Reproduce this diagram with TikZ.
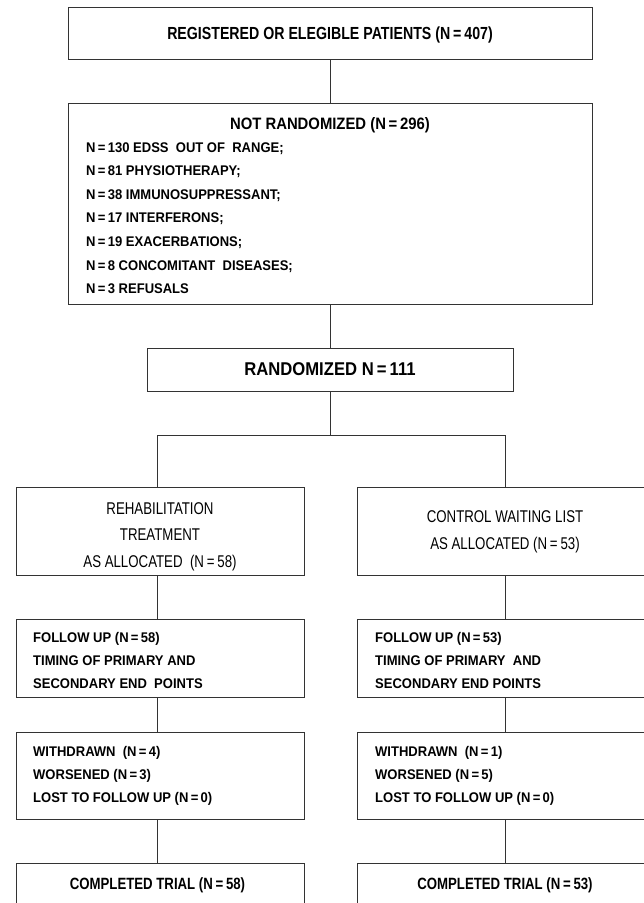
\documentclass[tikz,border=0pt]{standalone}
\usepackage{fontspec}
\setmainfont{Liberation Sans}
\newfontfamily\fsA{Liberation Sans}[FakeStretch=0.81]
\newfontfamily\fsB{Liberation Sans}[FakeStretch=0.90]
\newfontfamily\fsC{Liberation Sans}[FakeStretch=0.93]
\newfontfamily\fsD{Liberation Sans}[FakeStretch=0.78]
\begin{document}
\begin{tikzpicture}[x=1pt,y=-1pt,
  box/.style={draw=black!80, line width=0.9pt, rectangle, inner sep=0pt},
  link/.style={draw=black!80, line width=0.8pt},
  txt/.style={inner sep=0pt, text=black},
  hTitle/.style={txt, font=\fsA\bfseries\fontsize{17.5}{21}\selectfont},
  hNR/.style={txt, font=\fsB\bfseries\fontsize{16.5}{20}\selectfont},
  hRand/.style={txt, font=\fsB\bfseries\fontsize{18.5}{22}\selectfont},
  hList/.style={txt, font=\fsC\bfseries\fontsize{14}{17}\selectfont},
  hAlloc/.style={txt, font=\fsD\fontsize{17}{20}\selectfont},
  hDone/.style={txt, font=\fsA\bfseries\fontsize{16.3}{20}\selectfont}]
\clip (0,0) rectangle (644,903);
\useasboundingbox (0,0) rectangle (644,903);

% boxes
\node[box, minimum width=524pt, minimum height=52pt] (top) at (330,33) {};
\node[box, minimum width=524pt, minimum height=201pt] (nr) at (330,203.5) {};
\node[box, minimum width=366pt, minimum height=43pt] (rand) at (330,369.5) {};
\node[box, minimum width=288pt, minimum height=88pt] (la) at (160,531) {};
\node[box, minimum width=288pt, minimum height=88pt] (ra) at (501,531) {};
\node[box, minimum width=288pt, minimum height=78pt] (lf) at (160,658) {};
\node[box, minimum width=288pt, minimum height=78pt] (rf) at (501,658) {};
\node[box, minimum width=288pt, minimum height=87pt] (lw) at (160,775.5) {};
\node[box, minimum width=288pt, minimum height=87pt] (rw) at (501,775.5) {};
\node[box, minimum width=288pt, minimum height=43pt] (lc) at (160,884.5) {};
\node[box, minimum width=288pt, minimum height=43pt] (rc) at (501,884.5) {};

% connectors
\coordinate (J) at (330,435);
\coordinate (JL) at (157,435);
\coordinate (JR) at (505,435);
\draw[link] (top.south) -- (nr.north);
\draw[link] (nr.south) -- (rand.north);
\draw[link] (rand.south) -- (J);
\draw[link] (JL) -- (JR);
\draw[link] (JL) -- (JL |- la.north);
\draw[link] (JR) -- (JR |- ra.north);
\draw[link] (JL |- la.south) -- (JL |- lf.north);
\draw[link] (JR |- ra.south) -- (JR |- rf.north);
\draw[link] (JL |- lf.south) -- (JL |- lw.north);
\draw[link] (JR |- rf.south) -- (JR |- rw.north);
\draw[link] (JL |- lw.south) -- (JL |- lc.north);
\draw[link] (JR |- rw.south) -- (JR |- rc.north);

% texts
\node[hTitle, anchor=base] (topt) at (330,39.3) {REGISTERED OR ELEGIBLE PATIENTS (N\,=\,407)};
\node[hNR, anchor=base] (nrt) at (330,129.2) {NOT RANDOMIZED (N\,=\,296)};
\node[hList, anchor=base west] (nr1) at (86,152) {N\,=\,130 EDSS\ \ OUT OF\ \ RANGE;};
\node[hList, anchor=base west] (nr2) at (86,175.6) {N\,=\,81 PHYSIOTHERAPY;};
\node[hList, anchor=base west] (nr3) at (86,199.2) {N\,=\,38 IMMUNOSUPPRESSANT;};
\node[hList, anchor=base west] (nr4) at (86,222.8) {N\,=\,17 INTERFERONS;};
\node[hList, anchor=base west] (nr5) at (86,246.4) {N\,=\,19 EXACERBATIONS;};
\node[hList, anchor=base west] (nr6) at (86,270) {N\,=\,8 CONCOMITANT\ \ DISEASES;};
\node[hList, anchor=base west] (nr7) at (86,293.6) {N\,=\,3 REFUSALS};
\node[hRand, anchor=base] (randt) at (330,375.7) {RANDOMIZED N\,=\,111};

\node[hAlloc, anchor=base] (la1) at (160,514.2) {REHABILITATION};
\node[hAlloc, anchor=base] (la2) at (160,540.2) {TREATMENT};
\node[hAlloc, anchor=base] (la3) at (160,567.2) {AS ALLOCATED\ \ (N\,=\,58)};
\node[hAlloc, anchor=base] (ra1) at (505,522.2) {CONTROL WAITING LIST};
\node[hAlloc, anchor=base] (ra2) at (505,549.2) {AS ALLOCATED (N\,=\,53)};

\node[hList, anchor=base west] (lf1) at (33,642) {FOLLOW UP (N\,=\,58)};
\node[hList, anchor=base west] (lf2) at (33,665) {TIMING OF PRIMARY AND};
\node[hList, anchor=base west] (lf3) at (33,688) {SECONDARY END\ \ POINTS};
\node[hList, anchor=base west] (rf1) at (375,642) {FOLLOW UP (N\,=\,53)};
\node[hList, anchor=base west] (rf2) at (375,665) {TIMING OF PRIMARY\ \ AND};
\node[hList, anchor=base west] (rf3) at (375,688) {SECONDARY END POINTS};

\node[hList, anchor=base west] (lw1) at (33,756) {WITHDRAWN\ \ (N\,=\,4)};
\node[hList, anchor=base west] (lw2) at (33,779) {WORSENED (N\,=\,3)};
\node[hList, anchor=base west] (lw3) at (33,802) {LOST TO FOLLOW UP (N\,=\,0)};
\node[hList, anchor=base west] (rw1) at (375,756) {WITHDRAWN\ \ (N\,=\,1)};
\node[hList, anchor=base west] (rw2) at (375,779) {WORSENED (N\,=\,5)};
\node[hList, anchor=base west] (rw3) at (375,802) {LOST TO FOLLOW UP (N\,=\,0)};

\node[hDone, anchor=base] (lct) at (157.5,889.9) {COMPLETED TRIAL (N\,=\,58)};
\node[hDone, anchor=base] (rct) at (505,889.9) {COMPLETED TRIAL (N\,=\,53)};
\end{tikzpicture}
\end{document}
